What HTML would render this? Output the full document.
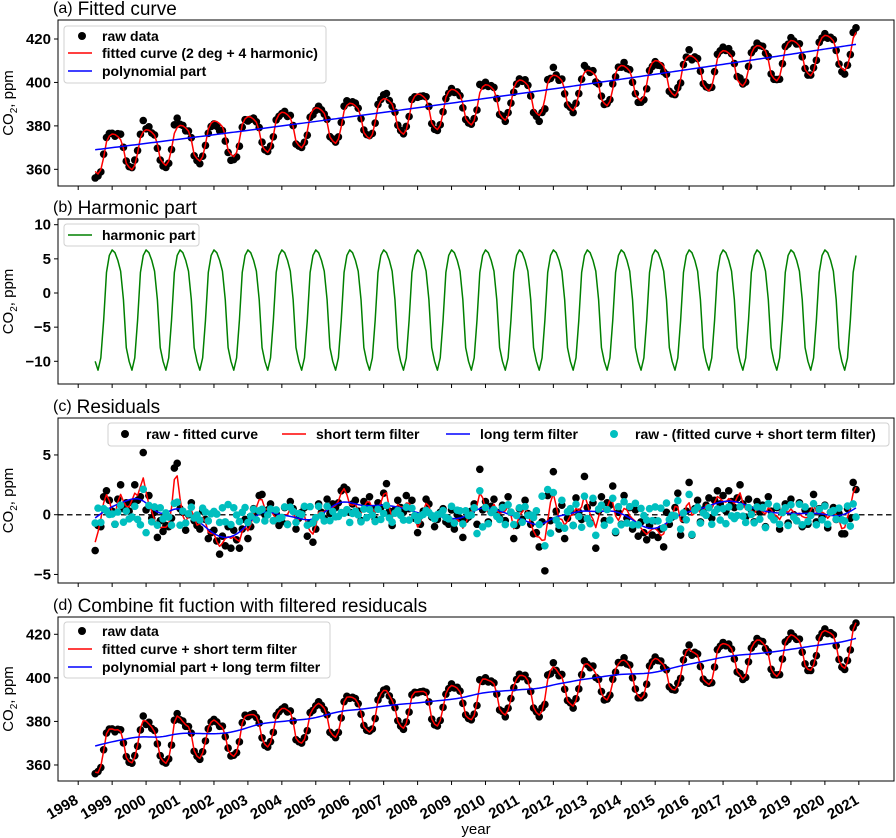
<!DOCTYPE html>
<html><head><meta charset="utf-8"><style>
body{margin:0;background:#fff;}
svg{display:block;font-family:"Liberation Sans","DejaVu Sans",sans-serif;}
</style></head><body>
<svg id="fig" width="896" height="838" viewBox="0 0 896 838" xmlns="http://www.w3.org/2000/svg"></svg>
<script>
// ---------- data ----------
const startYear = 1998.5;
const yearTicks = [1998,1999,2000,2001,2002,2003,2004,2005,2006,2007,2008,2009,2010,2011,2012,2013,2014,2015,2016,2017,2018,2019,2020,2021];
const polyCoef = [369.0, 1.942, 0.00997];
const harmonicCycle = [-10, -11.3, -9.5, -4, 3, 5.5, 6.3, 5.9, 4.8, 3.2, -1, -8];
const residuals = [
-3.0,-0.9,-1.0,1.5,2.0,1.2,0.3,-0.8,1.3,2.5,0.5,1.0,
0.3,1.0,2.5,1.2,1.5,5.2,0.4,1.6,-0.3,0.2,-1.9,-0.5,
-1.4,-0.9,-1.0,-0.3,3.9,4.3,0.5,0.2,-1.3,0.0,1.0,-0.5,
-0.9,-1.2,0.3,-0.4,-2.0,-1.5,-1.3,-2.2,-3.3,-1.8,-2.6,-1.0,
-2.8,-1.3,-2.1,-2.8,-1.2,-0.4,-2.0,-1.0,0.5,0.2,1.6,1.7,
0.0,0.4,0.9,-0.5,0.1,-0.9,-0.6,0.6,-0.8,1.1,0.5,-1.2,
-0.3,0.2,0.6,-1.8,-0.7,-2.3,-1.2,0.9,0.2,-0.3,1.3,0.1,
0.9,0.6,1.0,2.0,2.3,2.1,0.2,0.9,1.2,0.3,-0.5,1.1,
0.8,1.5,0.5,-0.4,1.0,0.6,1.8,2.6,0.3,-0.9,0.4,1.2,
0.6,0.2,1.6,0.5,1.2,-0.3,-1.5,-0.8,0.3,1.3,0.9,-0.2,
-1.0,-0.4,0.2,0.5,-0.6,-0.8,0.4,-1.2,0.0,-0.3,-1.9,-0.4,
-0.2,0.3,0.9,-0.8,3.8,0.4,1.1,-0.6,0.7,1.3,0.2,-0.3,
0.8,-0.5,1.5,0.2,-2.0,-0.9,0.5,-0.4,1.2,0.1,-0.8,-1.6,
-1.5,-2.7,-0.6,-4.7,1.6,-0.5,3.6,0.3,-1.2,0.8,-2.0,-0.3,
0.4,-0.9,1.4,0.2,-0.4,3.2,0.6,-0.7,1.0,-2.8,0.3,1.5,
-0.5,1.0,0.8,2.4,-1.5,0.2,-0.8,1.6,-0.3,0.6,-1.2,0.4,
-1.8,-0.6,-1.5,-2.1,-0.9,-1.7,-0.5,-1.9,-1.2,-2.7,0.2,-0.8,
-0.2,0.6,1.8,-1.7,-0.4,0.3,2.7,-1.7,0.5,1.2,-0.6,0.4,
0.8,1.4,-0.3,1.2,2.0,0.9,1.6,0.3,2.0,1.1,0.6,1.4,
2.5,0.9,-0.2,1.3,0.4,-0.6,1.1,0.2,0.8,-1.0,1.5,0.3,
-0.4,0.6,-1.2,0.2,0.9,-0.7,1.3,0.0,-0.5,1.0,-1.0,0.4,
-0.8,0.3,1.7,-0.6,0.5,-0.2,0.8,-1.1,0.2,0.6,-0.4,0.1,
-1.6,-1.6,0.5,-0.3,2.7,2.1];
const ticksA = [360,380,400,420];
const ticksB = [-10,-5,0,5,10];
const ticksC = [-5,0,5];
const ticksD = [360,380,400,420];

// ---------- derived ----------
const N = residuals.length;
const times = residuals.map((_, i) => startYear + i/12);
const poly = times.map(t => { const d=t-startYear; return polyCoef[0]+polyCoef[1]*d+polyCoef[2]*d*d; });
const harm = times.map((_, i) => harmonicCycle[i % 12]);
const fitted = poly.map((p,i)=>p+harm[i]);
const raw = fitted.map((f,i)=>f+residuals[i]);
function smooth(arr, w){ return arr.map((_,i)=>{let s=0,ws=0;for(let k=-w.length+1;k<w.length;k++){const j=i+k;if(j<0||j>=arr.length)continue;const ww=w[Math.abs(k)];s+=ww*arr[j];ws+=ww;}return s/ws;}); }
const gw=[];for(let k=0;k<12;k++)gw.push(Math.exp(-k*k/(2*4*4)));
const shortF = smooth(residuals,[2,1]);
const longF = smooth(residuals,gw);
const resid2 = residuals.map((r,i)=>r-shortF[i]);

// ---------- layout ----------
const NS="http://www.w3.org/2000/svg";
const svg=document.getElementById('fig');
const X0=58,X1=894;
const xs = t => 78.2 + (t-1998)*33.94;
function el(tag,attrs,parent,text){const e=document.createElementNS(NS,tag);for(const k in attrs)e.setAttribute(k,attrs[k]);if(text!==undefined)e.textContent=text;(parent||svg).appendChild(e);return e;}
function pathOf(vals,ys){return vals.map((v,i)=>(i?'L':'M')+xs(times[i]).toFixed(2)+','+ys(v).toFixed(2)).join('');}

const panels=[
 {id:'a',top:20,bot:186,ys:v=>39+(420-v)*2.172,ticks:ticksA,lab:'(a)',title:'Fitted curve'},
 {id:'b',top:219,bot:384,ys:v=>293-v*6.83,ticks:ticksB,lab:'(b)',title:'Harmonic part'},
 {id:'c',top:418,bot:583,ys:v=>514.7-v*11.95,ticks:ticksC,lab:'(c)',title:'Residuals'},
 {id:'d',top:617,bot:781,ys:v=>634.3+(420-v)*2.178,ticks:ticksD,lab:'(d)',title:'Combine fit fuction with filtered residucals'}
];
panels.forEach(p=>{
 const g=el('g',{});
 
 
 p.g=g;
 const cp=el('clipPath',{id:'clip'+p.id},g);
 el('rect',{x:X0,y:p.top,width:X1-X0,height:p.bot-p.top},cp);
 p.plot=el('g',{'clip-path':'url(#clip'+p.id+')'},g);
 const t=el('text',{x:53,y:p.top-5,'font-size':19,fill:'#000'},g);
 
 
 el('tspan',{'font-size':16,dy:-2},t,p.lab);
 el('tspan',{dx:5,dy:2},t,p.title);
 p.ticks.forEach(v=>{
  const y=p.ys(v);
  el('line',{x1:X0-4,x2:X0,y1:y,y2:y,stroke:'#000','stroke-width':1},g);
  const tl=el('text',{x:X0-7,y:y+5,'font-size':15,'font-weight':'bold','text-anchor':'end'},g,v<0?'\u2212'+(-v):String(v));
  
  
 });
 yearTicks.forEach(yr=>{const x=xs(yr);el('line',{x1:x,x2:x,y1:p.bot,y2:p.bot+4,stroke:'#000','stroke-width':1},g);});
 const yl=el('text',{transform:'translate(13,'+((p.top+p.bot)/2)+') rotate(-90)','font-size':15,'text-anchor':'middle'},g);
 
 
 el('tspan',{},yl,'CO');el('tspan',{'font-size':10,dy:4},yl,'2');el('tspan',{dy:-4},yl,', ppm');
});
function line(p,vals,color,name,w){const e=el('path',{d:pathOf(vals,p.ys),fill:'none',stroke:color,'stroke-width':w||1.5,'stroke-linejoin':'round'},p.plot);return e;}
function dots(p,vals,color,name){const g=el('g',{fill:color},p.plot);vals.forEach((v,i)=>{const c=el('circle',{cx:xs(times[i]).toFixed(2),cy:p.ys(v).toFixed(2),r:3.8},g);});}
const [A,B,C,D]=panels;
// (a)
dots(A,raw,'#000','raw-data-a');
line(A,fitted,'#ff0000','fitted-curve');
line(A,poly,'#0000ff','polynomial-part');
// (b)
line(B,harm,'#008000','harmonic-part');
// (c)
const zl=el('line',{x1:X0,x2:X1,y1:C.ys(0),y2:C.ys(0),stroke:'#222','stroke-width':1.5,'stroke-dasharray':'5.5,3.5'},C.plot);

dots(C,residuals,'#000','raw-minus-fitted');
line(C,shortF,'#ff0000','short-term-filter');
line(C,longF,'#0000ff','long-term-filter');
dots(C,resid2,'#00bfbf','residual-minus-short');
// (d)
dots(D,raw,'#000','raw-data-d');
line(D,fitted.map((f,i)=>f+shortF[i]),'#ff0000','fitted-plus-short');
line(D,poly.map((f,i)=>f+longF[i]),'#0000ff','poly-plus-long');
// frames
panels.forEach(p=>{el('rect',{x:X0,y:p.top,width:X1-X0,height:p.bot-p.top,fill:'none',stroke:'#000','stroke-width':1},p.g);});
// x tick labels
yearTicks.forEach(yr=>{const x=xs(yr)+1;const y=803;const t=el('text',{transform:'translate('+x+','+y+') rotate(-30)','font-size':15,'font-weight':'bold','text-anchor':'end'},svg,String(yr));
 });
const xt=el('text',{x:476,y:834,'font-size':15,'text-anchor':'middle'},svg,'year');

// legends
function legend(name,x,y,w,h,items){const g=el('g',{});
 el('rect',{x,y,width:w,height:h,rx:3,fill:'#fff','fill-opacity':0.85,stroke:'#d0d0d0'},g);
 items.forEach(it=>{const e=el('g',{},g);
  if(it.type==='dot')el('circle',{cx:it.x+12,cy:it.y,r:4,fill:it.c},e);else el('line',{x1:it.x,x2:it.x+24,y1:it.y,y2:it.y,stroke:it.c,'stroke-width':1.6},e);
  el('text',{x:it.tx,y:it.y+5,'font-size':14,'font-weight':'bold'},e,it.t);});}
legend('legend-a',64,26,262,57,[{type:'dot',c:'#000',x:70,y:36,tx:102,t:'raw data'},{type:'line',c:'#ff0000',x:68,y:53,tx:102,t:'fitted curve (2 deg + 4 harmonic)'},{type:'line',c:'#0000ff',x:68,y:71,tx:102,t:'polynomial part'}]);
legend('legend-b',64,224,135,22,[{type:'line',c:'#008000',x:68,y:235,tx:102,t:'harmonic part'}]);
legend('legend-c',108,423,781,23,[{type:'dot',c:'#000',x:113,y:434,tx:146,t:'raw - fitted curve'},{type:'line',c:'#ff0000',x:282,y:434,tx:316,t:'short term filter'},{type:'line',c:'#0000ff',x:446,y:434,tx:480,t:'long term filter'},{type:'dot',c:'#00bfbf',x:602,y:434,tx:635,t:'raw - (fitted curve + short term filter)'}]);
legend('legend-d',64,622,266,56,[{type:'dot',c:'#000',x:70,y:631,tx:102,t:'raw data'},{type:'line',c:'#ff0000',x:68,y:649,tx:102,t:'fitted curve + short term filter'},{type:'line',c:'#0000ff',x:68,y:667,tx:102,t:'polynomial part + long term filter'}]);
</script>
</body></html>
